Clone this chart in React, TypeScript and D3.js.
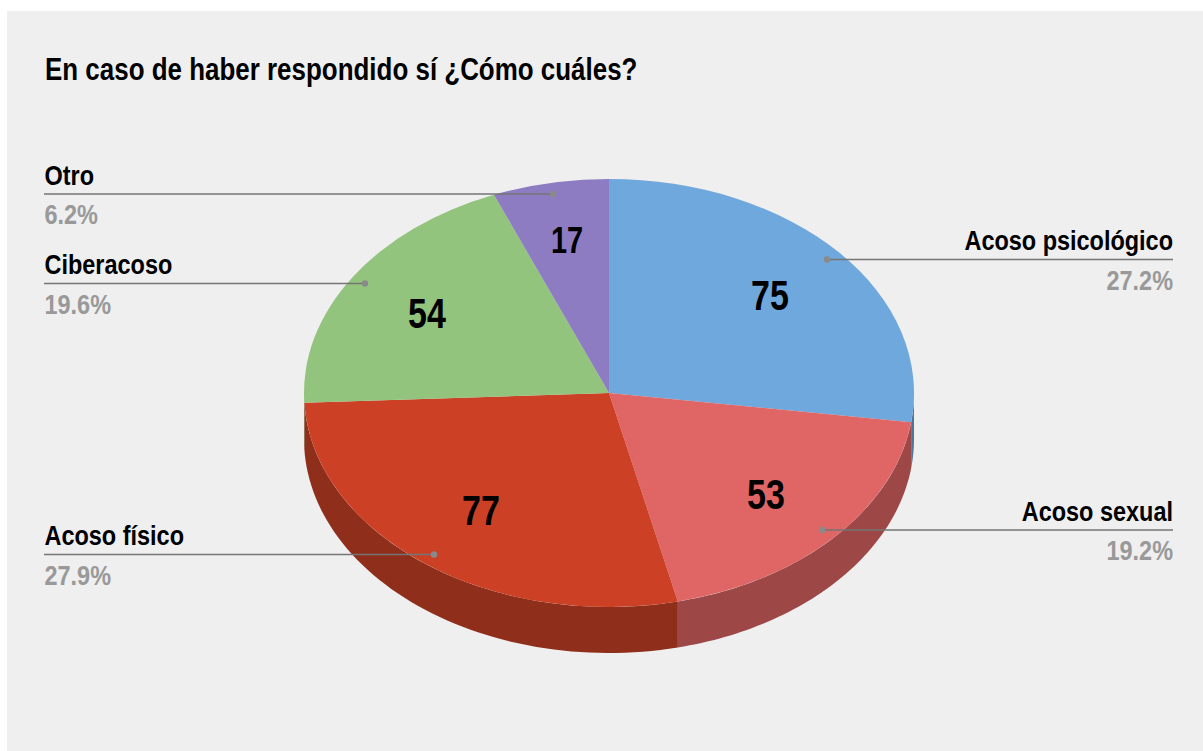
import React from "react";
import * as d3 from "d3";

const categories = ["Acoso psicológico", "Acoso sexual", "Acoso físico", "Ciberacoso", "Otro"];
const values = [75, 53, 77, 54, 17];
const percents = ["27.2%", "19.2%", "27.9%", "19.6%", "6.2%"];
const colors = ["#6fa8dc", "#e06666", "#cc4125", "#93c47d", "#8e7cc3"];
const title = "En caso de haber respondido sí ¿Cómo cuáles?";

const W = 1203, H = 751;
const cx = 609, cy = 393, rx = 305, ry = 214, depth = 46;
const FONT = "'Liberation Sans', Arial, sans-serif";

// Label layout: side, horizontal rule y, anchor dot x
const labelLayout = [
  { side: "right", y: 259.5, dot: 827 },
  { side: "right", y: 530, dot: 822 },
  { side: "left", y: 554.5, dot: 434 },
  { side: "left", y: 283.5, dot: 365 },
  { side: "left", y: 194, dot: 553 },
];
// Value label centres
const valuePos = [
  { x: 770, y: 310, size: 34 },
  { x: 766, y: 509, size: 34 },
  { x: 481, y: 525, size: 34 },
  { x: 427, y: 327.5, size: 34 },
  { x: 567, y: 253, size: 29 },
];

const pie = d3.pie<number>().sort(null).startAngle(0).endAngle(2 * Math.PI);
const arcs = pie(values);
const R = 100;
const arcGen = d3.arc<any>().innerRadius(0).outerRadius(R);
const ptLine = d3.line<[number, number]>();

function wall(a0: number, a1: number): string | null {
  const s = Math.max(a0, Math.PI / 2);
  const e = Math.min(a1, (3 * Math.PI) / 2);
  if (e <= s) return null;
  const n = 60;
  const angles = d3.range(n + 1).map((i) => s + ((e - s) * i) / n);
  const top = angles.map((a) => [cx + rx * Math.sin(a), cy - ry * Math.cos(a)] as [number, number]);
  const bot = angles
    .slice()
    .reverse()
    .map((a) => [cx + rx * Math.sin(a), cy - ry * Math.cos(a) + depth] as [number, number]);
  return ptLine([...top, ...bot]) + "Z";
}

function darken(c: string) {
  const r = d3.rgb(c);
  return d3.rgb(r.r * 0.7, r.g * 0.7, r.b * 0.7).formatHex();
}

function T(props: { x: number; y: number; sx?: number; sy?: number; size: number; fill: string; anchor?: string; children: any }) {
  const { x, y, sx = 1, sy = 1, size, fill, anchor = "start", children } = props;
  return (
    <text
      transform={`translate(${x},${y}) scale(${sx},${sy})`}
      fontFamily={FONT}
      fontWeight="700"
      fontSize={size}
      fill={fill}
      textAnchor={anchor}
    >
      {children}
    </text>
  );
}

export default function App() {
  return (
    <svg width={W} height={H} viewBox={`0 0 ${W} ${H}`} style={{ position: "absolute", left: 0, top: 0 }}>
      <rect width={W} height={H} fill="#ffffff" />
      <rect x={7} y={11} width={W - 7} height={H - 11} fill="#efefef" />
      <T x={45} y={79.5} size={27} sx={0.961} sy={1.18} fill="#000000">{title}</T>

      {arcs.map((a, i) => {
        const d = wall(a.startAngle, a.endAngle);
        return d ? <path key={i} d={d} fill={darken(colors[i])} /> : null;
      })}
      <g transform={`translate(${cx},${cy}) scale(${rx / R},${ry / R})`}>
        {arcs.map((a, i) => (
          <path key={i} d={arcGen(a) as string} fill={colors[i]} />
        ))}
      </g>

      {values.map((v, i) => (
        <T key={i} x={valuePos[i].x} y={valuePos[i].y} size={valuePos[i].size} sy={1.26} anchor="middle" fill="#000000">
          {v}
        </T>
      ))}

      {categories.map((c, i) => {
        const l = labelLayout[i];
        const right = l.side === "right";
        const tx = right ? 1173 : 44.5;
        return (
          <g key={c}>
            <line x1={right ? 1173 : 44} x2={l.dot} y1={l.y} y2={l.y} stroke="#757575" strokeWidth={1.6} />
            <circle cx={l.dot} cy={l.y} r={3.2} fill="#8a8a8a" />
            <T x={tx} y={l.y - 9.5} size={23} sx={1.02} sy={1.22} anchor={right ? "end" : "start"} fill="#000000">{c}</T>
            <T x={tx} y={l.y + 30} size={23} sx={1.02} sy={1.22} anchor={right ? "end" : "start"} fill="#999999">{percents[i]}</T>
          </g>
        );
      })}
    </svg>
  );
}
